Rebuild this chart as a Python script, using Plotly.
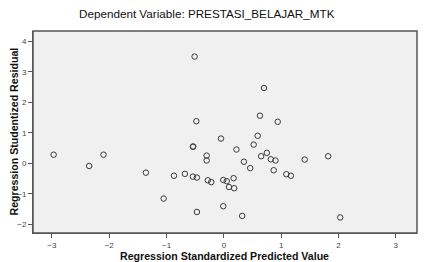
import plotly.graph_objects as go

predicted = [-2.97, -2.35, -2.10, -1.36, -1.05, -0.87, -0.68, -0.54, -0.47, -0.47,
             -0.54, -0.535, -0.51, -0.48, -0.30, -0.30, -0.28, -0.22, -0.05, -0.01,
             0.05, 0.17, 0.09, 0.18, -0.01, 0.22, 0.32, 0.35, 0.46, 0.52,
             0.59, 0.63, 0.65, 0.70, 0.75, 0.82, 0.87, 0.90, 0.94, 1.09,
             1.17, 1.41, 1.82, 2.03]
residual = [0.28, -0.09, 0.28, -0.31, -1.16, -0.41, -0.35, -0.44, -0.47, -1.60,
            0.54, 0.55, 3.50, 1.38, 0.25, 0.09, -0.56, -0.62, 0.81, -0.55,
            -0.59, -0.49, -0.78, -0.82, -1.41, 0.45, -1.73, 0.05, -0.16, 0.61,
            0.90, 1.56, 0.23, 2.47, 0.34, 0.13, -0.23, 0.09, 1.36, -0.36,
            -0.41, 0.12, 0.23, -1.78]

x_ticks = [-3, -2, -1, 0, 1, 2, 3]
y_ticks = [-2, -1, 0, 1, 2, 3, 4]

W, H = 426, 262
L, R, T, B = 33, 9, 31, 29

fig = go.Figure()
fig.add_trace(go.Scatter(
    x=predicted, y=residual, mode="markers",
    marker=dict(symbol="circle-open", size=5.5, color="#3a3a3a", line=dict(width=1, color="#3a3a3a")),
    hoverinfo="skip", showlegend=False,
))

axis_common = dict(
    showgrid=False, zeroline=False, ticks="outside", ticklen=4, tickwidth=1,
    tickcolor="#555", showline=True, linecolor="#555", linewidth=1, mirror=False,
    tickfont=dict(family="Liberation Sans, Arial", size=8, color="#444"),
    automargin=False,
)

fig.update_xaxes(range=[-3.33, 3.37], tickvals=x_ticks, **axis_common)
fig.update_yaxes(range=[-2.29, 4.34], tickvals=y_ticks, **axis_common)

pw = W - L - R
ph = H - T - B
title_font = dict(family="Liberation Sans, Arial", size=10.6, color="#111")

fig.update_layout(
    width=W, height=H,
    margin=dict(l=L, r=R, t=T, b=B),
    paper_bgcolor="white", plot_bgcolor="#f0f0f0",
    title=dict(text="Dependent Variable: PRESTASI_BELAJAR_MTK", x=206.7/W, xanchor="center",
               y=1 - 14/H, yanchor="middle",
               font=dict(family="Liberation Sans, Arial", size=11.7, color="#111")),
    shapes=[dict(type="rect", xref="paper", yref="paper", x0=0, y0=0, x1=1, y1=1,
                 line=dict(color="#555", width=1.5), fillcolor="rgba(0,0,0,0)", layer="above")],
    annotations=[
        dict(text="<b>Regression Standardized Predicted Value</b>", xref="paper", yref="paper",
             x=(224 - L)/pw, y=-(255.5 - (T + ph))/ph, xanchor="center", yanchor="middle",
             showarrow=False, font=title_font),
        dict(text="<b>Regression Studentized Residual</b>", xref="paper", yref="paper",
             x=-(L - 13)/pw, y=1 - (131.5 - T)/ph, xanchor="center", yanchor="middle",
             textangle=-90, showarrow=False, font=title_font),
    ],
)

fig.write_html("out.html")
